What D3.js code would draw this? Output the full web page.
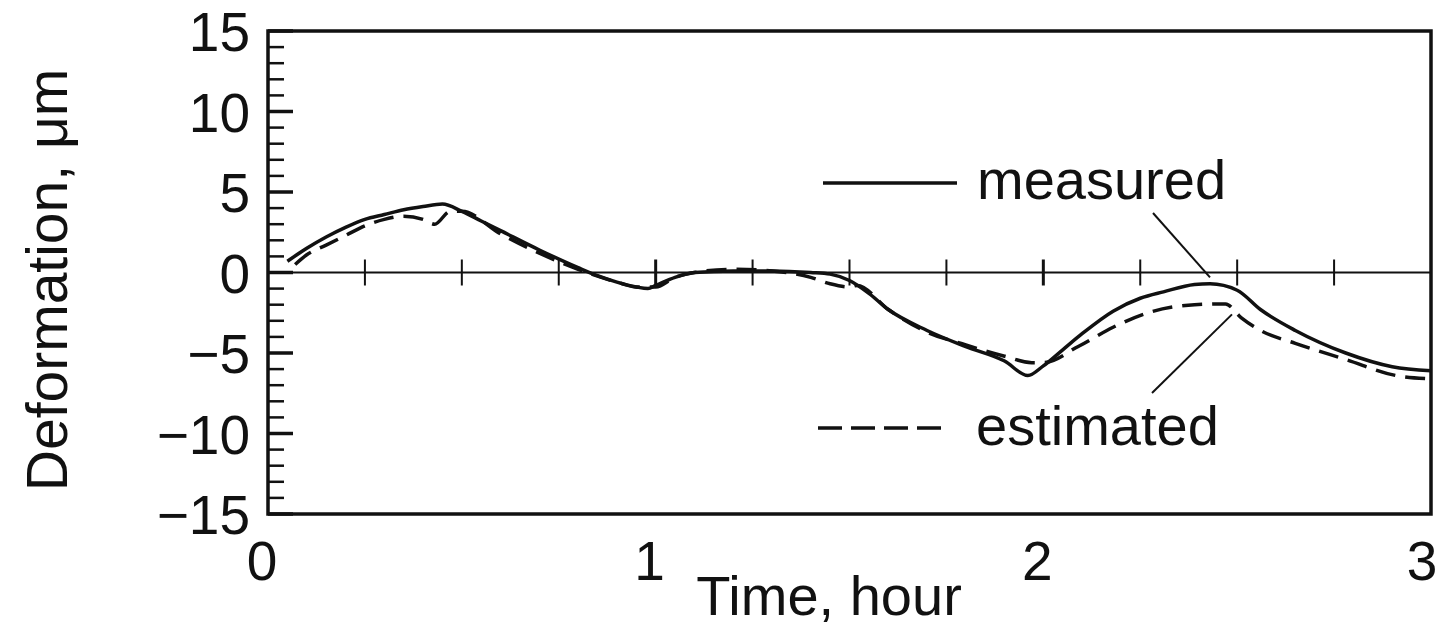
<!DOCTYPE html>
<html>
<head>
<meta charset="utf-8">
<script src="https://cdn.jsdelivr.net/npm/d3@7"></script>
<style>
  body { margin: 0; background: #fff; }
  svg { display: block; font-family: "Liberation Sans", Arial, sans-serif; }
</style>
</head>
<body>
<svg id="chart" width="1442" height="628"></svg>
<script>
// time in hours
const measuredTime = [0.05, 0.1, 0.15, 0.2, 0.25, 0.3, 0.35, 0.4, 0.45, 0.5, 0.55, 0.6, 0.7, 0.8, 0.85, 0.9, 0.95, 0.98, 1.0, 1.05, 1.1, 1.2, 1.3, 1.4, 1.45, 1.5, 1.55, 1.6, 1.7, 1.8, 1.9, 1.96, 2.0, 2.05, 2.1, 2.18, 2.25, 2.31, 2.39, 2.43, 2.5, 2.56, 2.65, 2.78, 2.9, 3.0]
const measured = [0.7, 1.5, 2.2, 2.8, 3.3, 3.6, 3.9, 4.1, 4.25, 3.8, 3.2, 2.6, 1.4, 0.3, -0.2, -0.6, -0.9, -1.0, -0.8, -0.3, 0.0, 0.1, 0.1, 0.0, -0.1, -0.5, -1.3, -2.3, -3.6, -4.6, -5.5, -6.4, -5.8, -4.8, -3.8, -2.4, -1.6, -1.2, -0.75, -0.7, -1.1, -2.3, -3.6, -5.0, -5.85, -6.1]

const estimatedTime = [0.07, 0.1, 0.15, 0.2, 0.25, 0.3, 0.35, 0.4, 0.43, 0.47, 0.5, 0.6, 0.7, 0.8, 0.9, 0.95, 1.0, 1.05, 1.1, 1.2, 1.3, 1.4, 1.45, 1.5, 1.52, 1.6, 1.7, 1.8, 1.9, 1.97, 2.0, 2.09, 2.18, 2.27, 2.39, 2.47, 2.51, 2.56, 2.65, 2.78, 2.91, 3.0]
const estimated = [0.5, 1.1, 1.7, 2.3, 2.9, 3.3, 3.5, 3.3, 3.0, 3.8, 3.8, 2.4, 1.2, 0.2, -0.6, -0.9, -0.9, -0.3, 0.0, 0.2, 0.1, -0.3, -0.7, -0.9, -0.8, -2.3, -3.7, -4.5, -5.2, -5.6, -5.6, -4.6, -3.4, -2.5, -2.0, -1.95, -2.8, -3.6, -4.4, -5.4, -6.4, -6.6]

const xTicks = [0, 1, 2, 3]
const yTicks = [15, 10, 5, 0, -5, -10, -15]

const svg = d3.select('#chart')
const plotLeft = 268, plotRight = 1431, plotTop = 31, plotBottom = 514

const x = d3.scaleLinear().domain([0, 3]).range([plotLeft, plotRight])
const y = d3.scaleLinear().domain([-15, 15]).range([plotBottom, plotTop])

const fmt = d => d < 0 ? '\u2212' + Math.abs(d) : String(d)

// minor ticks on the left axis
svg.append('g').selectAll('line')
    .data(d3.range(-15, 16))
    .enter().append('line')
    .attr('x1', plotLeft)
    .attr('x2', d => plotLeft + (d % 5 === 0 ? 25 : 16))
    .attr('y1', d => y(d))
    .attr('y2', d => y(d))
    .attr('stroke', '#111')
    .attr('stroke-width', d => d % 5 === 0 ? 3.5 : 2.5)

// zero line and its ticks
svg.append('line')
    .attr('x1', plotLeft).attr('x2', plotRight)
    .attr('y1', y(0)).attr('y2', y(0))
    .attr('stroke', '#111').attr('stroke-width', 2)

svg.append('g').selectAll('line')
    .data(d3.range(1, 12).map(i => i * 0.25))
    .enter().append('line')
    .attr('x1', d => x(d)).attr('x2', d => x(d))
    .attr('y1', y(0) - 13).attr('y2', y(0) + 13)
    .attr('stroke', '#111')
    .attr('stroke-width', d => Number.isInteger(d) ? 3 : 2)

// frame
svg.append('rect')
    .attr('x', plotLeft).attr('y', plotTop)
    .attr('width', plotRight - plotLeft).attr('height', plotBottom - plotTop)
    .attr('fill', 'none').attr('stroke', '#111').attr('stroke-width', 3.5)

// tick labels
svg.append('g').selectAll('text')
    .data(yTicks)
    .enter().append('text')
    .attr('x', 250)
    .attr('y', d => y(d) + 20)
    .attr('text-anchor', 'end')
    .attr('font-size', 55)
    .attr('fill', '#111')
    .text(fmt)

svg.append('g').selectAll('text')
    .data(xTicks)
    .enter().append('text')
    .attr('x', d => x(d) + (d === 3 ? -9 : -6))
    .attr('y', 580)
    .attr('text-anchor', 'middle')
    .attr('font-size', 55)
    .attr('fill', '#111')
    .text(fmt)

// axis titles
svg.append('text')
    .attr('x', 829).attr('y', 615)
    .attr('text-anchor', 'middle')
    .attr('font-size', 56)
    .attr('fill', '#111')
    .text('Time, hour')

svg.append('text')
    .attr('transform', 'translate(67,280) rotate(-90)')
    .attr('text-anchor', 'middle')
    .attr('font-size', 57)
    .attr('fill', '#111')
    .text('Deformation, \u03bcm')

// curves
const line = d3.line()
    .x(d => x(d[0]))
    .y(d => y(d[1]))
    .curve(d3.curveMonotoneX)

svg.append('path')
    .datum(estimatedTime.map((t, i) => [t, estimated[i]]))
    .attr('d', line)
    .attr('fill', 'none').attr('stroke', '#111')
    .attr('stroke-width', 3.5)
    .attr('stroke-dasharray', '20,10')

svg.append('path')
    .datum(measuredTime.map((t, i) => [t, measured[i]]))
    .attr('d', line)
    .attr('fill', 'none').attr('stroke', '#111')
    .attr('stroke-width', 3.5)

// legend
svg.append('line')
    .attr('x1', 823).attr('x2', 957).attr('y1', 183).attr('y2', 183)
    .attr('stroke', '#111').attr('stroke-width', 3.5)
svg.append('text')
    .attr('x', 977).attr('y', 199)
    .attr('font-size', 56).attr('fill', '#111')
    .text('measured')

svg.append('line')
    .attr('x1', 818).attr('x2', 942).attr('y1', 428).attr('y2', 428)
    .attr('stroke', '#111').attr('stroke-width', 3.5)
    .attr('stroke-dasharray', '24,9')
svg.append('text')
    .attr('x', 976).attr('y', 445)
    .attr('font-size', 56).attr('fill', '#111')
    .text('estimated')

// leader lines
svg.append('line')
    .attr('x1', 1153).attr('y1', 213)
    .attr('x2', 1210).attr('y2', y(-0.3))
    .attr('stroke', '#111').attr('stroke-width', 2)
svg.append('line')
    .attr('x1', 1152).attr('y1', 393)
    .attr('x2', 1232).attr('y2', y(-2.6))
    .attr('stroke', '#111').attr('stroke-width', 2)
</script>
</body>
</html>
